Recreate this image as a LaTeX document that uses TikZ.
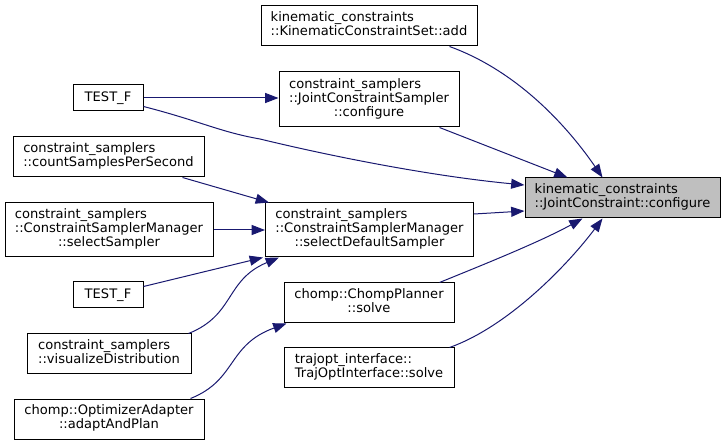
\documentclass[tikz,border=0pt]{standalone}
\usepackage{fontspec}
\setmainfont{DejaVu Sans}
\usetikzlibrary{arrows.meta,calc}
\definecolor{edgecol}{HTML}{191970}
\definecolor{tgtfill}{HTML}{BFBFBF}
\begin{document}
\begin{tikzpicture}[x=0.75pt,y=-0.75pt,
  box/.style={draw=black, line width=0.75pt, inner sep=0pt, fill=white,
    font=\fontsize{9.8pt}{10.5pt}\selectfont, align=center},
  edge/.style={draw=edgecol, line width=0.75pt,
    -{Triangle[length=10pt,width=7.5pt]}}]
\useasboundingbox (0,0) rectangle (725,445);

\node[box, fill=tgtfill, minimum width=195*0.75pt, minimum height=40*0.75pt] (tgt) at (622.5,198)
  {\begin{tabular}{@{}l@{}}kinematic\_constraints\\::JointConstraint::configure\end{tabular}};
\node[box, minimum width=216*0.75pt, minimum height=40*0.75pt] (add) at (369,26)
  {\begin{tabular}{@{}l@{}}kinematic\_constraints\\::KinematicConstraintSet::add\end{tabular}};
\node[box, minimum width=180*0.75pt, minimum height=55*0.75pt] (jcs) at (369,99.5)
  {\begin{tabular}{@{}l@{}}constraint\_samplers\\::JointConstraintSampler\\\multicolumn{1}{@{}c@{}}{::configure}\end{tabular}};
\node[box, minimum width=70*0.75pt, minimum height=26*0.75pt] (testfa) at (108,98)
  {TEST\_F};
\node[box, minimum width=191*0.75pt, minimum height=40*0.75pt] (count) at (108.5,157)
  {\begin{tabular}{@{}l@{}}constraint\_samplers\\::countSamplesPerSecond\end{tabular}};
\node[box, minimum width=208*0.75pt, minimum height=54*0.75pt] (sds) at (369.5,230)
  {\begin{tabular}{@{}l@{}}constraint\_samplers\\::ConstraintSamplerManager\\\multicolumn{1}{@{}c@{}}{::selectDefaultSampler}\end{tabular}};
\node[box, minimum width=208*0.75pt, minimum height=54*0.75pt] (sels) at (109,230)
  {\begin{tabular}{@{}l@{}}constraint\_samplers\\::ConstraintSamplerManager\\\multicolumn{1}{@{}c@{}}{::selectSampler}\end{tabular}};
\node[box, minimum width=70*0.75pt, minimum height=26*0.75pt] (testfb) at (108,295)
  {TEST\_F};
\node[box, minimum width=164*0.75pt, minimum height=40*0.75pt] (vis) at (109,354)
  {\begin{tabular}{@{}l@{}}constraint\_samplers\\::visualizeDistribution\end{tabular}};
\node[box, minimum width=190*0.75pt, minimum height=40*0.75pt] (adapt) at (109,419)
  {\begin{tabular}{@{}l@{}}chomp::OptimizerAdapter\\\multicolumn{1}{@{}c@{}}{::adaptAndPlan}\end{tabular}};
\node[box, minimum width=170*0.75pt, minimum height=40*0.75pt] (chomp) at (369,303)
  {\begin{tabular}{@{}l@{}}chomp::ChompPlanner\\\multicolumn{1}{@{}c@{}}{::solve}\end{tabular}};
\node[box, minimum width=170*0.75pt, minimum height=40*0.75pt] (traj) at (369,368)
  {\begin{tabular}{@{}l@{}}trajopt\_interface::\\TrajOptInterface::solve\end{tabular}};

% edges into target
\draw[edge] ($(add.south west)+(189,0)$) .. controls (520,72) and (570,130) .. ($(tgt.north west)+(78,0)$);
\draw[edge] ($(jcs.south west)+(161,0)$) -- ($(tgt.north west)+(43,0)$);
\draw[edge] ($(testfa.south east)+(0,-5)$) .. controls (200,121) and (220,132) .. (260,139)
  .. controls (330,156) and (430,176) .. ($(tgt.west)+(0,-13)$);
\draw[edge] ($(sds.east)+(0,-16)$) -- ($(tgt.west)+(0,13)$);
\draw[edge] ($(chomp.north west)+(156,0)$) .. controls (480,266) and (540,242) .. ($(tgt.south west)+(58,0)$);
\draw[edge] ($(traj.north west)+(166,0)$) .. controls (510,326) and (570,262) .. ($(tgt.south west)+(78,0)$);
% other edges
\draw[edge] (testfa.east) -- (testfa.east -| jcs.west);
\draw[edge] ($(count.south west)+(170,0)$) -- ($(sds.north west)+(4,0)$);
\draw[edge] (sels.east) -- (sds.west);
\draw[edge] ($(testfb.north east)+(0,5)$) -- ($(sds.south west)+(-2,0)$);
\draw[edge] ($(vis.north east)+(-3,0)$) .. controls (235,315) and (225,280) .. ($(sds.south west)+(14,0)$);
\draw[edge] ($(adapt.north east)+(-14,0)$) .. controls (237,380) and (227,345) .. ($(chomp.south west)+(3,0)$);
\end{tikzpicture}
\end{document}
